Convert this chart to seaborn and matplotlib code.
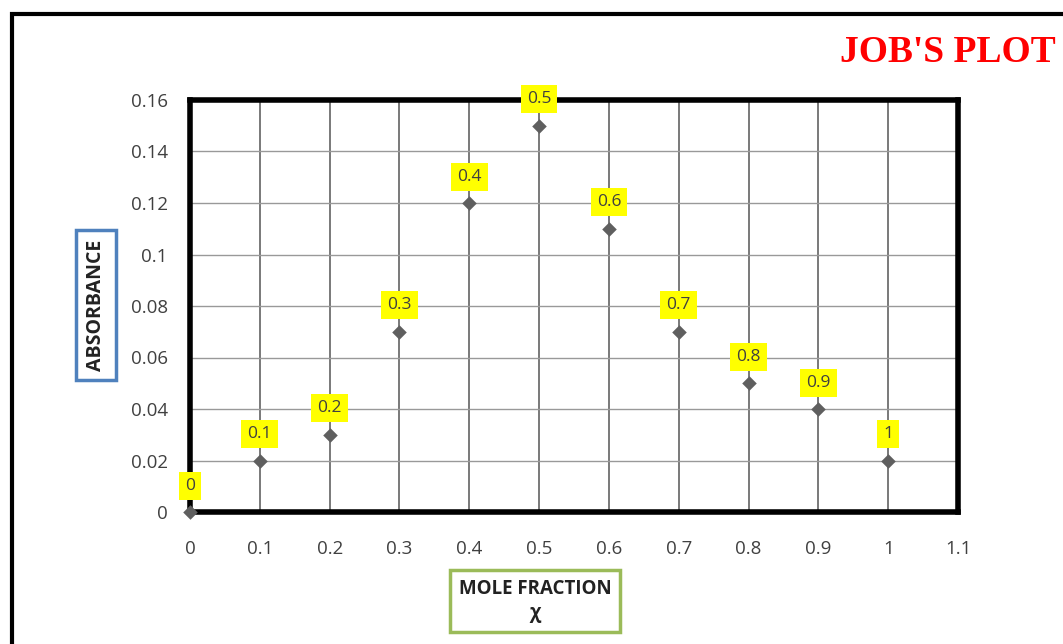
import matplotlib
matplotlib.use("Agg")
import matplotlib.pyplot as plt
from matplotlib.patches import Rectangle
import seaborn as sns
import pandas as pd
import numpy as np

# Data
mole_fraction = [0.0, 0.1, 0.2, 0.3, 0.4, 0.5, 0.6, 0.7, 0.8, 0.9, 1.0]
absorbance = [0.0, 0.02, 0.03, 0.07, 0.12, 0.15, 0.11, 0.07, 0.05, 0.04, 0.02]
point_labels = ["0", "0.1", "0.2", "0.3", "0.4", "0.5", "0.6", "0.7", "0.8", "0.9", "1"]
x_ticks = [0, 0.1, 0.2, 0.3, 0.4, 0.5, 0.6, 0.7, 0.8, 0.9, 1.0, 1.1]
x_tick_labels = ["0", "0.1", "0.2", "0.3", "0.4", "0.5", "0.6", "0.7", "0.8", "0.9", "1", "1.1"]
y_ticks = [0, 0.02, 0.04, 0.06, 0.08, 0.1, 0.12, 0.14, 0.16]
y_tick_labels = ["0", "0.02", "0.04", "0.06", "0.08", "0.1", "0.12", "0.14", "0.16"]

df = pd.DataFrame({"x": mole_fraction, "y": absorbance, "lab": point_labels})

sns.set_theme(style="white")
plt.rcParams["font.family"] = ["Open Sans", "DejaVu Sans"]

fig = plt.figure(figsize=(10.63, 6.44), dpi=100)
ax = fig.add_axes([190/1063, 1-512/644, (958-190)/1063, (512-100)/644])

# grid lines
for xv in x_ticks[1:-1]:
    ax.axvline(xv, color="#555555", lw=1.1, zorder=1)
for yv in y_ticks[1:-1]:
    ax.axhline(yv, color="#999999", lw=1.0, zorder=1)

sns.scatterplot(data=df, x="x", y="y", marker="D", s=55, color="#5f5f5f",
                edgecolor="#5f5f5f", linewidth=0, ax=ax, zorder=5, clip_on=False)

for xv, yv, lab in zip(mole_fraction, absorbance, point_labels):
    ax.annotate(lab, (xv, yv), xytext=(0, 19), textcoords="offset points",
                ha="center", va="center", fontsize=12.5, color="#404040",
                bbox=dict(boxstyle="square,pad=0.35", fc="#ffff00", ec="none"),
                zorder=6, annotation_clip=False)

ax.set_xlim(0, 1.1)
ax.set_ylim(0, 0.16)
ax.set_xticks(x_ticks)
ax.set_xticklabels(x_tick_labels)
ax.set_yticks(y_ticks)
ax.set_yticklabels(y_tick_labels)
ax.tick_params(axis="both", direction="in", length=5, width=3, color="black",
               labelsize=13.5, labelcolor="#404040")
ax.tick_params(axis="x", pad=20)
ax.tick_params(axis="y", pad=16)
for sp in ax.spines.values():
    sp.set_visible(True)
    sp.set_color("black")
    sp.set_linewidth(4)
ax.set_xlabel("")
ax.set_ylabel("")

# axis titles in boxes
fig.text(96/1063, 1-305/644, "ABSORBANCE", rotation=90, ha="center", va="center",
         fontsize=14, fontweight="bold", color="#222222",
         bbox=dict(boxstyle="square,pad=0.5", fc="white", ec="#4F81BD", lw=2.5))
fig.text(535/1063, 1-601/644, "MOLE FRACTION\nχ", ha="center", va="center",
         fontsize=13.5, fontweight="bold", color="#222222", linespacing=1.3,
         bbox=dict(boxstyle="square,pad=0.45", fc="white", ec="#9BBB59", lw=2.5))

# title
fig.text(1056/1063, 1-52/644, "JOB'S PLOT", ha="right", va="center",
         fontsize=27, fontweight="bold", color="#ff0000",
         family=["Liberation Serif", "DejaVu Serif"])

# outer frame
fig.patches.append(Rectangle((12/1063, -0.2), 1.5, 1.2 - 14/644, transform=fig.transFigure,
                             fill=False, ec="black", lw=3, clip_on=False))

fig.savefig("out.png", dpi=100)
